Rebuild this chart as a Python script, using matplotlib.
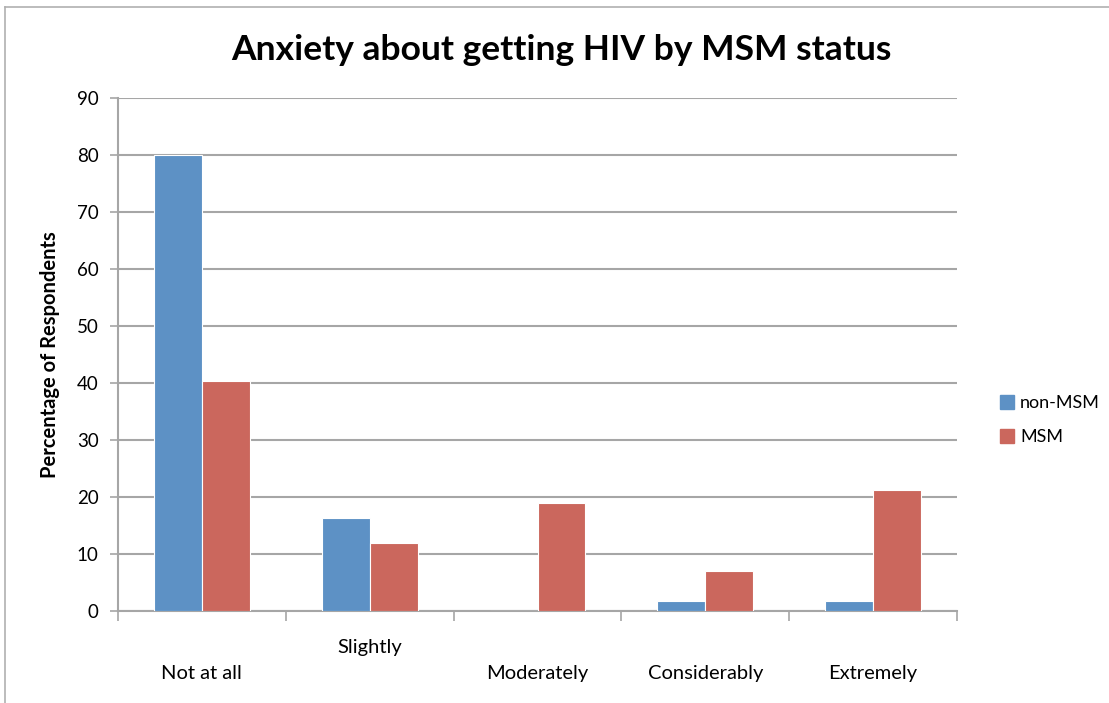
import numpy as np
import matplotlib.pyplot as plt
from matplotlib.lines import Line2D

# Data
categories = ['Not at all', 'Slightly', 'Moderately', 'Considerably', 'Extremely']
non_msm = [80.0, 16.4, 0.0, 1.7, 1.7]
msm = [40.4, 11.9, 19.0, 7.1, 21.3]
series_names = ['non-MSM', 'MSM']
y_ticks = list(range(0, 91, 10))

blue = '#5d91c5'
red = '#cb675d'
grid_col = '#a6a6a6'

plt.rcParams['font.family'] = ['Lato', 'DejaVu Sans']

fig = plt.figure(figsize=(11.09, 7.03), dpi=100)
ax = fig.add_axes([118/1109, 1-611/703, (957-118)/1109, (611-98)/703])

x = np.arange(len(categories))
w = 1/3.5
ax.bar(x - w/2, non_msm, width=w, color=blue, edgecolor='white', linewidth=0.8, label=series_names[0], zorder=3)
ax.bar(x + w/2, msm, width=w, color=red, edgecolor='white', linewidth=0.8, label=series_names[1], zorder=3)

ax.set_xlim(-0.5, len(categories) - 0.5)
ax.set_ylim(0, 90)
ax.set_yticks(y_ticks)
ax.tick_params(axis='y', length=6, width=1.2, color=grid_col, labelsize=13.5, pad=8)
ax.yaxis.grid(True, color=grid_col, linewidth=1.5, zorder=0)

# category labels at centres, tick marks at boundaries
ax.set_xticks(x)
ax.set_xticklabels(categories, fontsize=14.5)
ax.tick_params(axis='x', length=0)
ax.set_xticks(np.arange(-0.5, len(categories), 1), minor=True)
ax.tick_params(axis='x', which='minor', length=7, width=1.2, color=grid_col)
for i, t in enumerate(ax.xaxis.get_major_ticks()):
    t.set_pad(20 if i == 1 else 39)

for s in ['top', 'right']:
    ax.spines[s].set_visible(False)
for s in ['left', 'bottom']:
    ax.spines[s].set_color(grid_col)
    ax.spines[s].set_linewidth(1.5)

ax.set_ylabel('Percentage of Respondents', fontsize=14.5, fontweight='bold', labelpad=12)
fig.text(561/1109, 1-50/703, 'Anxiety about getting HIV by MSM status',
         ha='center', va='center', fontsize=25.5, fontweight='bold')

handles = [Line2D([], [], marker='s', linestyle='', markersize=10, color=c) for c in (blue, red)]
fig.legend(handles, series_names, loc='center left', bbox_to_anchor=(982/1109, 1-420/703),
           frameon=False, fontsize=13, handletextpad=0.2, labelspacing=1.0, handlelength=1.0)

# outer chart frame
fig.add_artist(Line2D([5/1109, 1], [1-7/703, 1-7/703], color='#b0b0b0', linewidth=1.2))
fig.add_artist(Line2D([5/1109, 5/1109], [0, 1-7/703], color='#b0b0b0', linewidth=1.2))

fig.savefig('out.png', dpi=100)
